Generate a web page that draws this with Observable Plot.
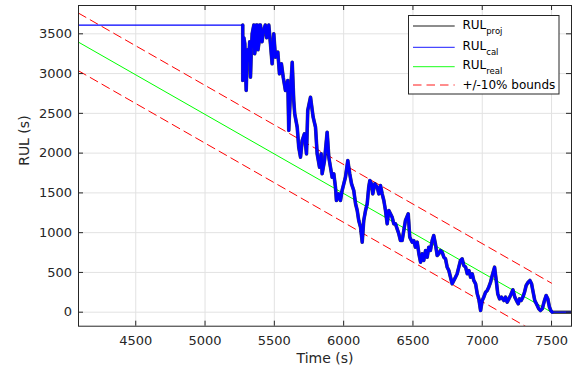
<!DOCTYPE html>
<html><head><meta charset="utf-8">
<script src="https://cdn.jsdelivr.net/npm/d3@7"></script>
<script src="https://cdn.jsdelivr.net/npm/@observablehq/plot@0.6"></script>
<style>
html,body{margin:0;padding:0;background:#fff;}
#wrap{position:relative;width:579px;height:369px;}
#legend{position:absolute;left:408px;top:15px;}
</style></head><body><div id="wrap"></div>
<script>
// ---- data ----
const xTicks = [4500, 5000, 5500, 6000, 6500, 7000, 7500];
const yTicks = [0, 500, 1000, 1500, 2000, 2500, 3000, 3500];
const xDomain = [4087, 7644];
const yDomain = [-176, 3856];

const calTime = [4087, 5272, 5272, 5280, 5287, 5292, 5297, 5305, 5315, 5322, 5328, 5334, 5340, 5352, 5358, 5364, 5370, 5376, 5382, 5388, 5394, 5400, 5411, 5422, 5435, 5445, 5460, 5472, 5484, 5496, 5508, 5525, 5537, 5551, 5564, 5580, 5597, 5604, 5616, 5629, 5640, 5647, 5665, 5676, 5689, 5701, 5717, 5732, 5741, 5761, 5780, 5797, 5809, 5826, 5838, 5845, 5862, 5881, 5893, 5905, 5917, 5929, 5941, 5948, 5965, 5977, 5989, 6001, 6013, 6030, 6044, 6057, 6073, 6086, 6098, 6109, 6122, 6134, 6145, 6158, 6170, 6181, 6189, 6201, 6210, 6225, 6242, 6254, 6266, 6278, 6290, 6302, 6314, 6326, 6338, 6350, 6362, 6374, 6386, 6398, 6410, 6422, 6434, 6446, 6466, 6477, 6495, 6506, 6518, 6531, 6543, 6555, 6567, 6578, 6591, 6603, 6614, 6626, 6639, 6650, 6662, 6675, 6686, 6699, 6711, 6723, 6735, 6747, 6759, 6771, 6783, 6795, 6807, 6819, 6831, 6843, 6855, 6867, 6880, 6892, 6904, 6916, 6928, 6939, 6952, 6964, 6975, 6988, 7000, 7011, 7024, 7036, 7047, 7060, 7072, 7089, 7101, 7112, 7125, 7139, 7156, 7168, 7180, 7192, 7204, 7221, 7235, 7247, 7260, 7269, 7281, 7293, 7305, 7317, 7331, 7344, 7356, 7365, 7379, 7397, 7408, 7420, 7433, 7449, 7461, 7473, 7485, 7495, 7505, 7644];
const calRUL = [3610, 3610, 2913, 3450, 3374, 3050, 2787, 3300, 3164, 3400, 2954, 3300, 3500, 3610, 3250, 3332, 3610, 3610, 3300, 3374, 3610, 3610, 3400, 3541, 3610, 3450, 3610, 3374, 3123, 3500, 3206, 3269, 2997, 3123, 2954, 2787, 2913, 2284, 2746, 3143, 2661, 2494, 2326, 2074, 1949, 2159, 2243, 1991, 2536, 2703, 2452, 2326, 1991, 1823, 1991, 1740, 1907, 2263, 1949, 1823, 1697, 1740, 1572, 1404, 1488, 1404, 1530, 1614, 1697, 1907, 1740, 1614, 1530, 1363, 1279, 1153, 1069, 880, 1153, 1279, 1363, 1572, 1656, 1614, 1488, 1614, 1572, 1488, 1593, 1488, 1404, 1279, 1111, 1279, 1237, 1194, 1111, 1111, 1048, 986, 901, 901, 1027, 1153, 1237, 943, 880, 901, 817, 880, 734, 629, 734, 650, 776, 691, 817, 776, 901, 964, 860, 713, 734, 776, 754, 691, 671, 566, 524, 440, 357, 399, 440, 483, 566, 650, 671, 587, 566, 483, 524, 440, 483, 399, 357, 231, 168, 21, 147, 189, 251, 273, 314, 377, 461, 566, 399, 231, 168, 189, 147, 189, 126, 168, 210, 282, 189, 147, 106, 168, 147, 189, 251, 336, 377, 399, 357, 273, 147, 84, 43, 21, 43, 147, 210, 168, 63, 21, 0, 0];

const realTime = [4087, 7500];
const realRUL = [3395, 0];
const upperTime = [4087, 7500];
const upperRUL = [3760, 365];
const lowerTime = [4087, 7500];
const lowerRUL = [3035, -365];

const onsetTime = 5272;   // start of the calculated (noisy) estimate
const endTime = 7505;     // end of life

// ---- rows built from the arrays ----
const zip = (ts, vs) => ts.map((t, i) => ({t, v: vs[i]}));
const cal = zip(calTime, calRUL);
const real = zip(realTime, realRUL);
const upper = zip(upperTime, upperRUL);
const lower = zip(lowerTime, lowerRUL);
const proj = cal.filter(d => d.t >= onsetTime);

const W = 579, H = 369;
const mL = 78, mR = 8, mT = 5, mB = 43.3;
const plotW = W - mL - mR, plotH = H - mT - mB;
const tickLen = 5;
const axisColor = "#262626";

const chart = Plot.plot({
  width: W, height: H,
  marginLeft: mL, marginRight: mR, marginTop: mT, marginBottom: mB,
  x: {domain: xDomain},
  y: {domain: yDomain},
  style: {fontFamily: "DejaVu Sans", fontSize: "13px", color: axisColor, background: "white"},
  marks: [
    Plot.gridX(xTicks, {stroke: "#e2e2e2", strokeOpacity: 1, strokeWidth: 1}),
    Plot.gridY(yTicks, {stroke: "#e2e2e2", strokeOpacity: 1, strokeWidth: 1}),
    Plot.line(lower, {x: "t", y: "v", stroke: "#ff0000", strokeWidth: 1, strokeDasharray: "8.5,5", clip: true}),
    Plot.line(upper, {x: "t", y: "v", stroke: "#ff0000", strokeWidth: 1, strokeDasharray: "8.5,5", clip: true}),
    Plot.line(real, {x: "t", y: "v", stroke: "#00ff00", strokeWidth: 1, clip: true}),
    Plot.line(cal.filter(d => d.t <= onsetTime), {x: "t", y: "v", stroke: "#0000ff", strokeWidth: 1.3, clip: true}),
    Plot.line(proj, {x: "t", y: "v", stroke: "#000", strokeOpacity: 0.7, strokeWidth: 3.6, strokeLinejoin: "round", clip: true}),
    Plot.line(cal.filter(d => d.t >= onsetTime && d.t <= endTime), {x: "t", y: "v", stroke: "#0000ff", strokeWidth: 3, strokeLinejoin: "round", clip: true}),
    Plot.line(cal.filter(d => d.t >= endTime), {x: "t", y: "v", stroke: "#0000ff", strokeWidth: 1.3, clip: true}),
    // inward ticks on all four sides
    Plot.ruleX(xTicks, {x: d => d, insetTop: plotH - tickLen, stroke: axisColor}),
    Plot.ruleX(xTicks, {x: d => d, insetBottom: plotH - tickLen, stroke: axisColor}),
    Plot.ruleY(yTicks, {y: d => d, insetRight: plotW - tickLen, stroke: axisColor}),
    Plot.ruleY(yTicks, {y: d => d, insetLeft: plotW - tickLen, stroke: axisColor}),
    Plot.frame({stroke: axisColor, strokeWidth: 1}),
    Plot.axisX(xTicks, {tickSize: 0, tickPadding: 10, tickFormat: d => String(d), label: null, fontSize: 13}),
    Plot.axisY(yTicks, {tickSize: 0, tickPadding: 6.5, tickFormat: d => String(d), label: null, fontSize: 13}),
    Plot.text(["Time (s)"], {frameAnchor: "bottom", lineAnchor: "middle", dy: 32, fontSize: 14, fill: axisColor}),
    Plot.text(["RUL (s)"], {frameAnchor: "left", lineAnchor: "middle", rotate: -90, dx: -54, fontSize: 14, fill: axisColor})
  ]
});

const wrap = document.getElementById("wrap");
wrap.appendChild(chart);

// ---- legend overlay ----
const legendItems = [
  {name: "RUL", sub: "proj", color: "#000", dash: null, ly: 11, ty: 14.3},
  {name: "RUL", sub: "cal", color: "#0000ff", dash: null, ly: 32.3, ty: 35},
  {name: "RUL", sub: "real", color: "#00ff00", dash: null, ly: 51.7, ty: 54.3},
  {name: "+/-10% bounds", sub: null, color: "#ff0000", dash: "8.5,5", ly: 70, ty: 74}
];
const ns = "http://www.w3.org/2000/svg";
const lg = document.createElementNS(ns, "svg");
lg.setAttribute("id", "legend");
lg.setAttribute("width", 152);
lg.setAttribute("height", 80);
lg.style.position = "absolute";
lg.style.left = "408px";
lg.style.top = "15px";
const rect = document.createElementNS(ns, "rect");
rect.setAttribute("x", 0.5); rect.setAttribute("y", 0.5);
rect.setAttribute("width", 150.5); rect.setAttribute("height", 78.5);
rect.setAttribute("fill", "white"); rect.setAttribute("stroke", axisColor); rect.setAttribute("stroke-width", 1);
lg.appendChild(rect);
for (const it of legendItems) {
  const ln = document.createElementNS(ns, "line");
  ln.setAttribute("x1", 5); ln.setAttribute("x2", 46.7);
  ln.setAttribute("y1", it.ly); ln.setAttribute("y2", it.ly);
  ln.setAttribute("stroke", it.color); ln.setAttribute("stroke-width", 0.9);
  if (it.dash) ln.setAttribute("stroke-dasharray", it.dash);
  lg.appendChild(ln);
  const tx = document.createElementNS(ns, "text");
  tx.setAttribute("x", 54.4); tx.setAttribute("y", it.ty);
  tx.setAttribute("font-family", "DejaVu Sans"); tx.setAttribute("font-size", 12);
  tx.setAttribute("fill", "#000");
  tx.textContent = it.name;
  if (it.sub) {
    const ts = document.createElementNS(ns, "tspan");
    ts.setAttribute("font-size", 8.5); ts.setAttribute("dy", 4.5);
    ts.textContent = it.sub;
    tx.appendChild(ts);
  }
  lg.appendChild(tx);
}
wrap.appendChild(lg);
</script></body></html>
